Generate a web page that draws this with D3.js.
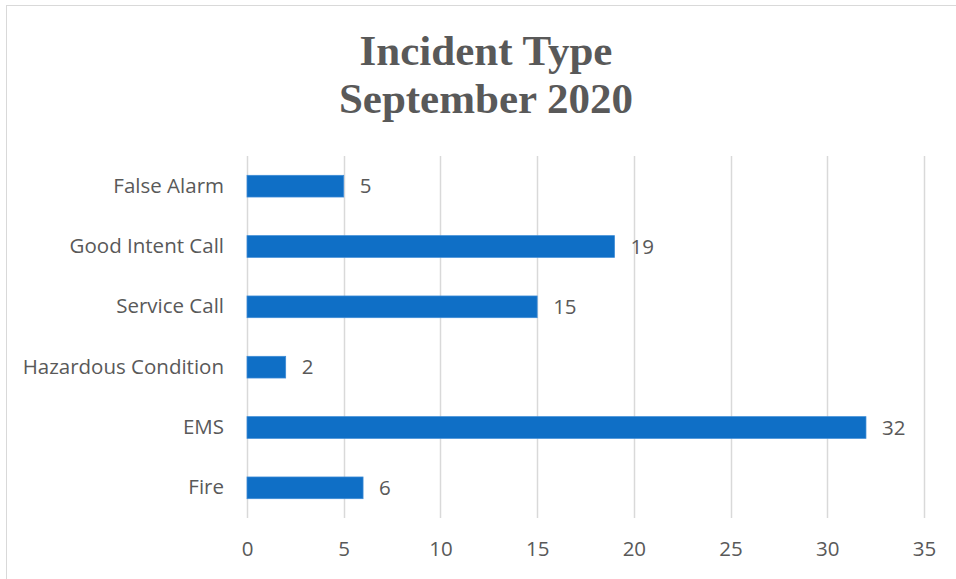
<!DOCTYPE html>
<html>
<head>
<meta charset="utf-8">
<script src="https://cdn.jsdelivr.net/npm/d3@7"></script>
<style>
  body { margin: 0; background: #fff; }
</style>
</head>
<body>
<svg id="chart" width="956" height="579"></svg>
<script>
const categories = ["False Alarm", "Good Intent Call", "Service Call", "Hazardous Condition", "EMS", "Fire"];
const incidentCounts = [5, 19, 15, 2, 32, 6];
const xTicks = [0, 5, 10, 15, 20, 25, 30, 35];
const titleLines = ["Incident Type", "September 2020"];

const svg = d3.select("#chart");
const textColor = "#595959";
const labelFont = "'Open Sans', 'Noto Sans', sans-serif";

// outer chart border (runs off the right and bottom edges)
svg.append("rect")
  .attr("x", 6.5).attr("y", 5.5)
  .attr("width", 960).attr("height", 590)
  .attr("fill", "#fff")
  .attr("stroke", "#d9d9d9");

const plot = { left: 247, right: 924, top: 156, bottom: 518 };

const x = d3.scaleLinear().domain([0, 35]).range([plot.left, plot.right]);
// inner padding 0.64, outer half of that so each category gets an equal slot
const y = d3.scaleBand().domain(categories).range([plot.top, plot.bottom])
  .paddingInner(0.64).paddingOuter(0.32);

// title
svg.append("g")
  .selectAll("text")
  .data(titleLines)
  .join("text")
  .attr("x", 486)
  .attr("y", (d, i) => 65 + i * 48)
  .attr("text-anchor", "middle")
  .attr("font-family", "'Liberation Serif', 'Times New Roman', serif")
  .attr("font-weight", "bold")
  .attr("font-size", 43)
  .attr("fill", textColor)
  .text(d => d);

// vertical gridlines
svg.append("g")
  .selectAll("line")
  .data(xTicks)
  .join("line")
  .attr("x1", d => Math.round(x(d)) + 0.5)
  .attr("x2", d => Math.round(x(d)) + 0.5)
  .attr("y1", plot.top)
  .attr("y2", plot.bottom)
  .attr("stroke", "#d9d9d9")
  .attr("stroke-width", 1.5);

// x axis labels
const xAxis = svg.append("g")
  .attr("transform", `translate(0,${plot.bottom})`)
  .call(d3.axisBottom(x).tickValues(xTicks).tickSize(0).tickPadding(23));
xAxis.select(".domain").remove();
xAxis.selectAll("text")
  .attr("font-family", labelFont)
  .attr("font-size", 20.5)
  .attr("fill", textColor);

// y axis labels
const yAxis = svg.append("g")
  .attr("transform", `translate(${plot.left},0)`)
  .call(d3.axisLeft(y).tickSize(0).tickPadding(23));
yAxis.select(".domain").remove();
yAxis.selectAll("text")
  .attr("font-family", labelFont)
  .attr("font-size", 20.5)
  .attr("fill", textColor);

const rows = categories.map((c, i) => ({ category: c, value: incidentCounts[i] }));

// bars
svg.append("g")
  .selectAll("rect")
  .data(rows)
  .join("rect")
  .attr("x", x(0))
  .attr("y", d => y(d.category))
  .attr("width", d => x(d.value) - x(0))
  .attr("height", y.bandwidth())
  .attr("fill", "#0f6fc6")
  .attr("stroke", "#3d8bd6")
  .attr("stroke-width", 0.75);

// value labels
svg.append("g")
  .selectAll("text")
  .data(rows)
  .join("text")
  .attr("x", d => x(d.value) + 16)
  .attr("y", d => y(d.category) + y.bandwidth() / 2)
  .attr("dy", "0.35em")
  .attr("font-family", labelFont)
  .attr("font-size", 20.5)
  .attr("fill", textColor)
  .text(d => d.value);
</script>
</body>
</html>
